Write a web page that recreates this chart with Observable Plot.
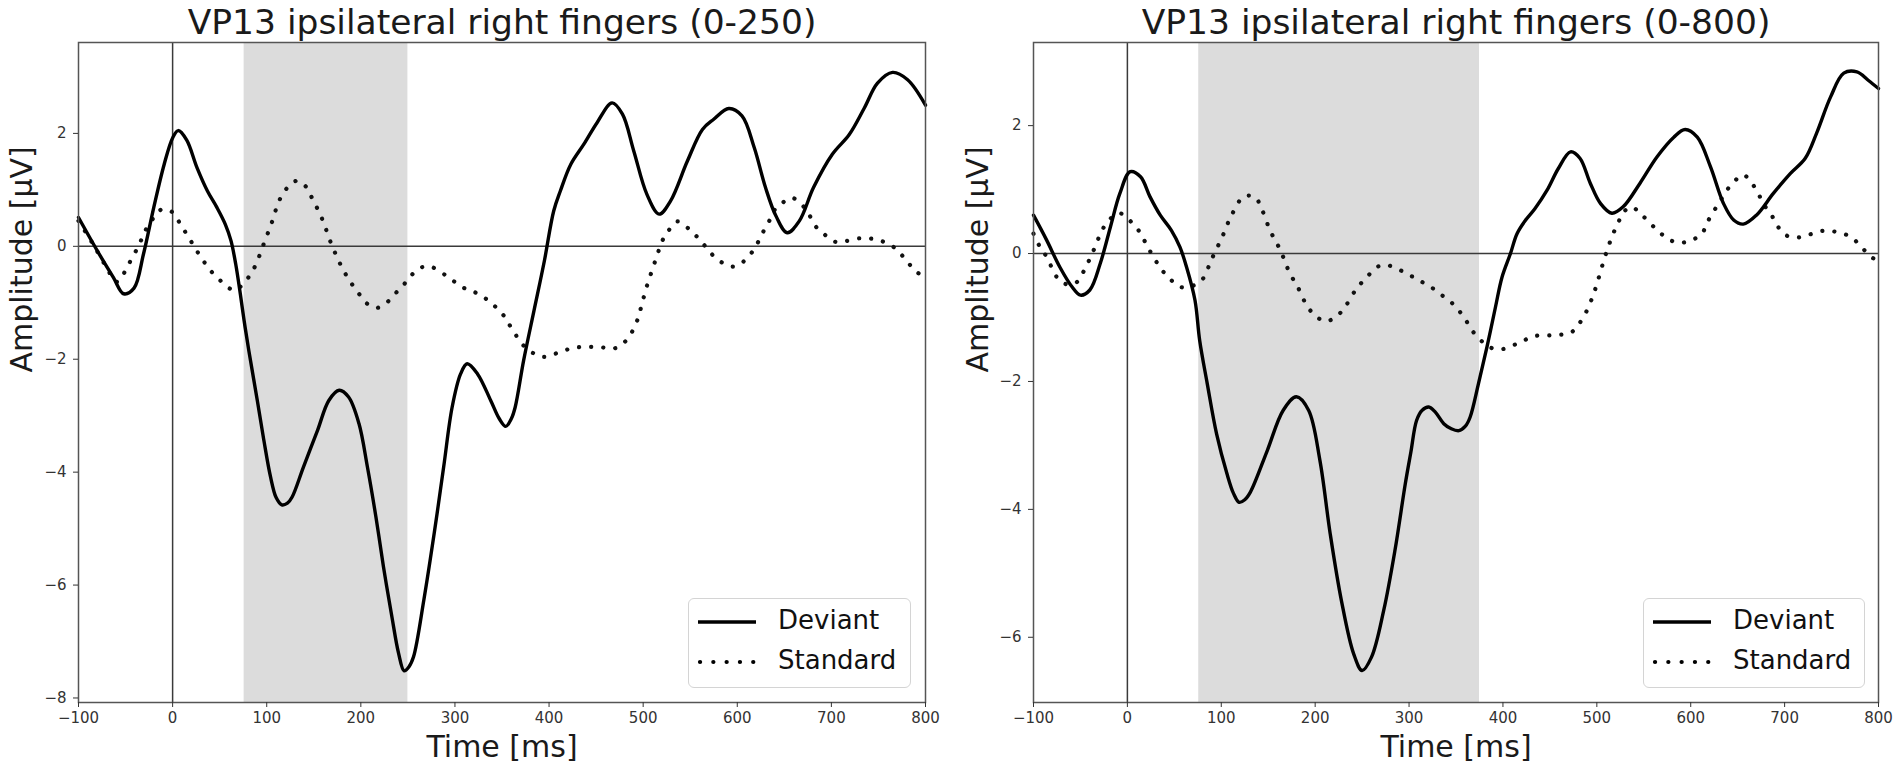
<!DOCTYPE html>
<html>
<head>
<meta charset="utf-8">
<script src="https://cdn.jsdelivr.net/npm/d3@7"></script>
<script src="https://cdn.jsdelivr.net/npm/@observablehq/plot@0.6"></script>
<style>
  html, body { margin: 0; padding: 0; background: #fff; }
  #wrap { position: relative; width: 1902px; height: 773px; overflow: hidden; font-family: "DejaVu Sans", sans-serif; }
  .panel { position: absolute; top: 0; }
  .legend { position: absolute; box-sizing: border-box; background: rgba(255,255,255,0.85); border: 1.5px solid #d4d4d4; border-radius: 6px; }
  .legend .row { position: absolute; left: 0; height: 40px; display: flex; align-items: center; }
  .legend .row span { position: absolute; font-size: 26px; color: #111; white-space: nowrap; }
</style>
</head>
<body>
<div id="wrap"></div>
<script>
// ---------- data ----------
const xTicks = [-100, 0, 100, 200, 300, 400, 500, 600, 700, 800];
const leftYTicks = [-8, -6, -4, -2, 0, 2];
const rightYTicks = [-6, -4, -2, 0, 2];
const titles = ["VP13 ipsilateral right fingers (0-250)", "VP13 ipsilateral right fingers (0-800)"];
const xLabel = "Time [ms]";
const yLabel = "Amplitude [µV]";
const seriesNames = ["Deviant", "Standard"];
const leftWindow = [76, 250];
const rightWindow = [76, 375];
const leftYDomain = [-8.08, 3.61];
const rightYDomain = [-7.02, 3.30];
const xDomain = [-100, 800];

const leftDeviantT = [-100,-80,-63,-52,-41,-31,-20,-9,0,6,15,26,37,47,56,62,67,72,76,81,90,97,104,110,116,122,127,139,154,166,177,187,198,207,216,224,233,240,246,251,256,267,278,288,297,306,313,324,338,347,354,360,364,373,384,395,405,412,423,437,451,467,478,490,504,517,529,547,563,575,591,605,618,630,641,653,666,681,701,719,735,749,765,781,800];
const leftDeviantV = [0.51,-0.08,-0.55,-0.84,-0.74,-0.14,0.69,1.45,1.92,2.05,1.88,1.39,0.98,0.69,0.39,0.10,-0.31,-0.85,-1.32,-1.85,-2.73,-3.44,-4.08,-4.45,-4.58,-4.55,-4.44,-3.91,-3.26,-2.73,-2.55,-2.67,-3.14,-3.91,-4.79,-5.67,-6.56,-7.2,-7.52,-7.45,-7.27,-6.26,-5.08,-3.91,-2.85,-2.26,-2.08,-2.26,-2.73,-3.05,-3.19,-3.05,-2.85,-2.02,-1.14,-0.26,0.63,0.98,1.45,1.81,2.19,2.54,2.34,1.69,0.92,0.57,0.80,1.51,2.07,2.25,2.44,2.31,1.75,1.04,0.54,0.24,0.45,1.04,1.63,1.98,2.45,2.89,3.08,2.95,2.5];

const leftStandardT = [-100,-85,-70,-60,-54,-50,-38,-32,-27,-18,-11,0,8,14,21,28,35,43,53,62,67,73,81,88,97,106,113,122,132,141,148,159,168,178,187,198,207,217,228,237,246,255,265,271,276,288,299,311,322,333,343,352,359,373,384,394,407,419,430,442,456,469,480,488,494,499,504,510,516,521,527,536,547,556,565,573,584,595,605,614,621,627,634,639,648,658,669,676,683,692,703,713,728,740,752,765,774,782,791,800];
const leftStandardV = [0.45,0.05,-0.38,-0.63,-0.55,-0.42,-0.05,0.16,0.34,0.55,0.66,0.60,0.40,0.24,0.05,-0.14,-0.31,-0.48,-0.64,-0.76,-0.77,-0.70,-0.54,-0.34,0.05,0.45,0.80,1.04,1.16,1.07,0.86,0.48,0.07,-0.31,-0.58,-0.84,-1.02,-1.09,-0.99,-0.83,-0.67,-0.49,-0.37,-0.36,-0.37,-0.49,-0.62,-0.75,-0.82,-0.93,-1.07,-1.23,-1.42,-1.76,-1.90,-1.96,-1.90,-1.83,-1.79,-1.78,-1.79,-1.81,-1.70,-1.52,-1.30,-1.0,-0.7,-0.4,-0.1,0.12,0.28,0.44,0.33,0.19,0.02,-0.14,-0.29,-0.36,-0.29,-0.14,0.04,0.24,0.45,0.63,0.77,0.86,0.73,0.57,0.36,0.22,0.085,0.085,0.14,0.14,0.10,0.0,-0.14,-0.30,-0.46,-0.55];

const rightDeviantT = [-100,-86,-72,-59,-50,-40,-29,-18,-8,3,14,24,35,47,56,63,72,77,85,95,106,113,119,125,131,149,166,180,193,205,216,228,241,250,260,273,285,296,302,308,314,321,328,337,345,353,360,365,374,383,392,399,408,415,424,434,447,459,472,482,493,504,516,528,546,564,582,594,607,621,635,646,656,670,688,706,722,734,749,763,777,789,800];
const rightDeviantV = [0.60,0.21,-0.21,-0.52,-0.65,-0.57,-0.16,0.42,0.94,1.28,1.20,0.89,0.60,0.36,0.10,-0.21,-0.73,-1.36,-2.03,-2.82,-3.44,-3.75,-3.89,-3.85,-3.73,-3.08,-2.45,-2.24,-2.45,-3.23,-4.38,-5.43,-6.26,-6.52,-6.31,-5.58,-4.64,-3.60,-3.1,-2.61,-2.45,-2.40,-2.48,-2.66,-2.74,-2.77,-2.7,-2.56,-2.03,-1.46,-0.84,-0.37,0.0,0.31,0.52,0.70,0.99,1.33,1.59,1.49,1.10,0.78,0.63,0.73,1.10,1.51,1.82,1.94,1.82,1.36,0.78,0.52,0.46,0.60,0.94,1.25,1.49,1.88,2.45,2.82,2.84,2.71,2.58];

const rightStandardT = [-100,-93,-86,-75,-65,-55,-47,-36,-26,-17,-8,3,12,24,37,47,56,66,79,90,101,111,124,136,143,152,163,173,181,191,200,211,223,232,244,255,266,276,289,301,312,323,333,344,353,360,367,376,385,397,410,422,434,447,459,472,480,487,493,498,503,508,513,518,523,528,537,546,557,567,578,590,601,612,617,624,631,637,646,656,665,672,677,685,692,701,713,725,738,750,763,773,782,791,800];
const rightStandardV = [0.31,0.10,-0.05,-0.37,-0.48,-0.46,-0.29,0.05,0.39,0.56,0.63,0.51,0.36,0.04,-0.26,-0.42,-0.52,-0.52,-0.42,-0.08,0.26,0.60,0.89,0.88,0.70,0.36,0.05,-0.31,-0.51,-0.81,-0.97,-1.06,-0.98,-0.83,-0.55,-0.37,-0.21,-0.18,-0.25,-0.34,-0.43,-0.52,-0.63,-0.75,-0.89,-1.03,-1.20,-1.35,-1.46,-1.50,-1.44,-1.36,-1.29,-1.28,-1.27,-1.24,-1.12,-0.96,-0.77,-0.57,-0.33,-0.08,0.14,0.33,0.49,0.64,0.73,0.63,0.47,0.33,0.21,0.17,0.21,0.31,0.47,0.65,0.81,0.96,1.12,1.23,1.10,0.94,0.78,0.63,0.44,0.29,0.25,0.29,0.35,0.35,0.31,0.23,0.10,-0.04,-0.12];

// ---------- helpers ----------
const toRows = (T, V) => T.map((t, i) => ({t, v: V[i]}));
const fmt = d => d < 0 ? "\u2212" + Math.abs(d) : String(d);

const dottedDash = "0.1 12";

function panel(cfg) {
  return Plot.plot({
    width: cfg.width, height: 773,
    marginLeft: cfg.ml, marginRight: cfg.mr, marginTop: cfg.mt, marginBottom: cfg.mb,
    style: {fontFamily: "DejaVu Sans", color: "#333", background: "transparent", overflow: "visible"},
    x: {domain: xDomain, label: null},
    y: {domain: cfg.yDomain, label: null},
    marks: [
      Plot.rect([cfg.window], {x1: d => d[0], x2: d => d[1], fill: "#dcdcdc"}),
      Plot.ruleY([0], {stroke: "#3a3a3a", strokeWidth: 1.5}),
      Plot.ruleX([0], {stroke: "#3a3a3a", strokeWidth: 1.5}),
      Plot.line(cfg.standard, {x: "t", y: "v", curve: "catmull-rom", stroke: "#111", strokeWidth: 4.2, strokeDasharray: dottedDash, strokeLinecap: "round"}),
      Plot.line(cfg.deviant, {x: "t", y: "v", curve: "catmull-rom", stroke: "#000", strokeWidth: 3.4, strokeLinejoin: "round"}),
      Plot.frame({stroke: "#555", strokeWidth: 1.5}),
      Plot.axisX({ticks: xTicks, tickFormat: fmt, tickSize: 5, tickPadding: 5, fontSize: 15, label: null}),
      Plot.axisY({ticks: cfg.yTicks, tickFormat: fmt, tickSize: 5, tickPadding: 7, fontSize: 15, label: null}),
      Plot.text([cfg.title], {text: d => d, frameAnchor: "top", dy: -9, lineAnchor: "bottom", fontSize: 34.5, fill: "#1a1a1a"}),
      Plot.text([xLabel], {text: d => d, frameAnchor: "bottom", dy: 54, lineAnchor: "bottom", fontSize: 30, fill: "#1a1a1a"}),
      Plot.text([yLabel], {text: d => d, frameAnchor: "left", dx: cfg.ylabDx, rotate: -90, lineAnchor: "bottom", fontSize: 30, fill: "#1a1a1a"})
    ]
  });
}

const wrap = document.getElementById("wrap");

const panels = [
  {left: 0, width: 951, ml: 78, mr: 26, mt: 42, mb: 71, yDomain: leftYDomain, yTicks: leftYTicks, window: leftWindow,
   title: titles[0], deviant: toRows(leftDeviantT, leftDeviantV), standard: toRows(leftStandardT, leftStandardV), ylabDx: -47,
   legend: {left: 688, top: 598, width: 223, height: 90}},
  {left: 951, width: 951, ml: 82, mr: 24, mt: 42, mb: 71, yDomain: rightYDomain, yTicks: rightYTicks, window: rightWindow,
   title: titles[1], deviant: toRows(rightDeviantT, rightDeviantV), standard: toRows(rightStandardT, rightStandardV), ylabDx: -46,
   legend: {left: 1643, top: 598, width: 222, height: 90}}
];

for (const p of panels) {
  const div = document.createElement("div");
  div.className = "panel";
  div.style.left = p.left + "px";
  div.appendChild(panel(p));
  wrap.appendChild(div);

  // legend
  const lg = document.createElement("div");
  lg.className = "legend";
  Object.assign(lg.style, {left: p.legend.left + "px", top: p.legend.top + "px", width: p.legend.width + "px", height: p.legend.height + "px"});
  seriesNames.forEach((name, i) => {
    const row = document.createElement("div");
    row.className = "row";
    row.style.top = (3 + i * 40) + "px";
    row.style.width = "100%";
    const ns = "http://www.w3.org/2000/svg";
    const s = document.createElementNS(ns, "svg");
    s.setAttribute("width", "70"); s.setAttribute("height", "40");
    s.style.position = "absolute"; s.style.left = "6px"; s.style.top = "0px";
    const ln = document.createElementNS(ns, "line");
    ln.setAttribute("x1", i === 0 ? "3" : "5"); ln.setAttribute("x2", i === 0 ? "61" : "62");
    ln.setAttribute("y1", "20"); ln.setAttribute("y2", "20");
    ln.setAttribute("stroke", "#000");
    ln.setAttribute("stroke-width", i === 0 ? "3.6" : "4.2");
    if (i === 1) { ln.setAttribute("stroke-dasharray", "0.1 13.2"); ln.setAttribute("stroke-linecap", "round"); }
    s.appendChild(ln);
    row.appendChild(s);
    const sp = document.createElement("span");
    sp.textContent = name;
    sp.style.left = "89px";
    sp.style.top = "3px";
    row.appendChild(sp);
    lg.appendChild(row);
  });
  wrap.appendChild(lg);
}
</script>
</body>
</html>
